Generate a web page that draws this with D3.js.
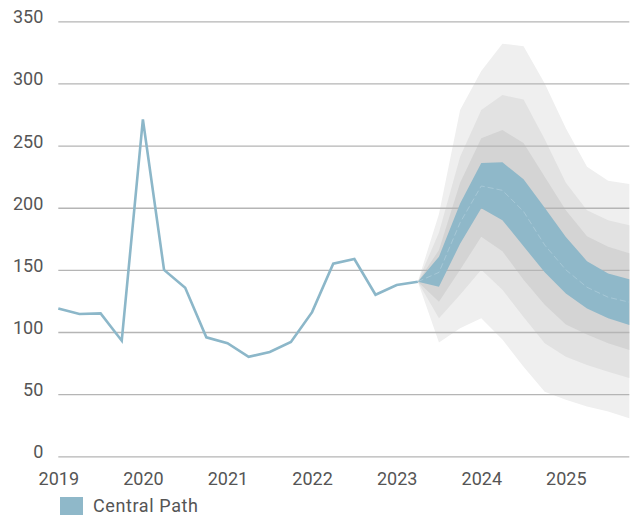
<!DOCTYPE html>
<html><head><meta charset="utf-8">
<script src="https://cdn.jsdelivr.net/npm/d3@7"></script>
<style>
body{margin:0;background:#fff}
svg{display:block}
text{font-family:Roboto,"Noto Sans",sans-serif;fill:#555}
</style>
</head><body>
<svg id="chart" width="635" height="519"></svg>
<script>
// ---- data ----
const histTime = [2019.0,2019.25,2019.5,2019.75,2020.0,2020.25,2020.5,2020.75,2021.0,2021.25,2021.5,2021.75,2022.0,2022.25,2022.5,2022.75,2023.0,2023.25];
const histValues = [119,114.5,115,93,271,150,135.6,95.7,91,80,84,92,116,155,158.7,130,137.8,140.5];

const fanTime = [2023.25,2023.5,2023.75,2024.0,2024.25,2024.5,2024.75,2025.0,2025.25,2025.5,2025.75];
const outerUpper  = [140.5,195,278.6,310,332,330,300,264,233,221.7,219];
const middleUpper = [140.5,180,241,278.6,290.7,287,255,220,198,190,186];
const innerUpper  = [140.5,166,220,256,262.5,252,225,198,177,168.6,163.3];
const centralUpper= [140.5,160.6,203.5,236,236.5,223,200,176.5,157,147,142.4];
const centralLower= [140.5,136.5,171,199.5,190,169,148,131,119,111,105.6];
const innerLower  = [140.5,124.4,150,176.7,165,142,122,106,98,91,85.5];
const middleLower = [140.5,111,130,150,134,112,91,80,73.5,68,63];
const outerLower  = [140.5,91.5,103,111,94,72,52,45.5,40,36,30.6];
const median      = [140.5,148,188,217.5,214,197,170,150,136,128,124];

const yTicks = [0,50,100,150,200,250,300,350];
const xTicks = [2019,2020,2021,2022,2023,2024,2025];
const xTickLabels = ["2019","2020","2021","2022","2023","2024","2025"];
const legendLabel = "Central Path";

// ---- drawing ----
const svg = d3.select("#chart");
const x = d3.scaleLinear().domain([2019, 2025.75]).range([58.3, 629.3]);
const y = d3.scaleLinear().domain([0, 350]).range([456.3, 21.3]);

const band = (lo, hi) => d3.area()
  .x((d,i)=>x(fanTime[i])).y0((d,i)=>y(lo[i])).y1((d,i)=>y(hi[i]))(fanTime);

// grey bands
const greys = [
  {lo: outerLower, hi: outerUpper, c: "#efefef"},
  {lo: middleLower, hi: middleUpper, c: "#e2e2e2"},
  {lo: innerLower, hi: innerUpper, c: "#d4d4d4"}
];
svg.append("g").selectAll("path").data(greys).join("path")
  .attr("d", d=>band(d.lo, d.hi)).attr("fill", d=>d.c);

// gridlines + y labels
const yAxis = d3.axisLeft(y).tickValues(yTicks).tickSize(-(x.range()[1]-x.range()[0])).tickPadding(15);
const gy = svg.append("g").attr("transform", `translate(${x.range()[0]},0)`).call(yAxis);
gy.select(".domain").remove();
gy.selectAll(".tick line").attr("stroke", "#b5b5b5").attr("stroke-width", 1.3);
gy.selectAll(".tick text").attr("font-size", 18).attr("dy", "0.08em").attr("fill", "#555")
  .attr("font-family", "Roboto, sans-serif");

// x labels
const xAxis = d3.axisBottom(x).tickValues(xTicks).tickFormat((d,i)=>xTickLabels[i]).tickSize(0).tickPadding(16);
const gx = svg.append("g").attr("transform", `translate(0,${y(0)})`).call(xAxis);
gx.select(".domain").remove();
gx.selectAll(".tick text").attr("font-size", 18).attr("fill", "#555").attr("font-family", "Roboto, sans-serif");

// central band
svg.append("path").attr("d", band(centralLower, centralUpper)).attr("fill", "#8fb8c9");

// median
svg.append("path")
  .attr("d", d3.line().x((d,i)=>x(fanTime[i])).y(d=>y(d))(median))
  .attr("fill","none").attr("stroke","#c4dbe5").attr("stroke-opacity",0.55)
  .attr("stroke-width",0.8).attr("stroke-dasharray","6,3");

// history line
svg.append("path")
  .attr("d", d3.line().x((d,i)=>x(histTime[i])).y(d=>y(d))(histValues))
  .attr("fill","none").attr("stroke","#8cb7c9").attr("stroke-width",2.6).attr("stroke-linejoin","miter");

// legend
const lg = svg.append("g");
lg.append("rect").attr("x",60).attr("y",497).attr("width",23).attr("height",18).attr("fill","#8fb8c9");
lg.append("text").attr("x",93).attr("y",512).attr("font-size",18).attr("letter-spacing","0.6px")
  .attr("fill","#555").text(legendLabel);
</script>
</body></html>
